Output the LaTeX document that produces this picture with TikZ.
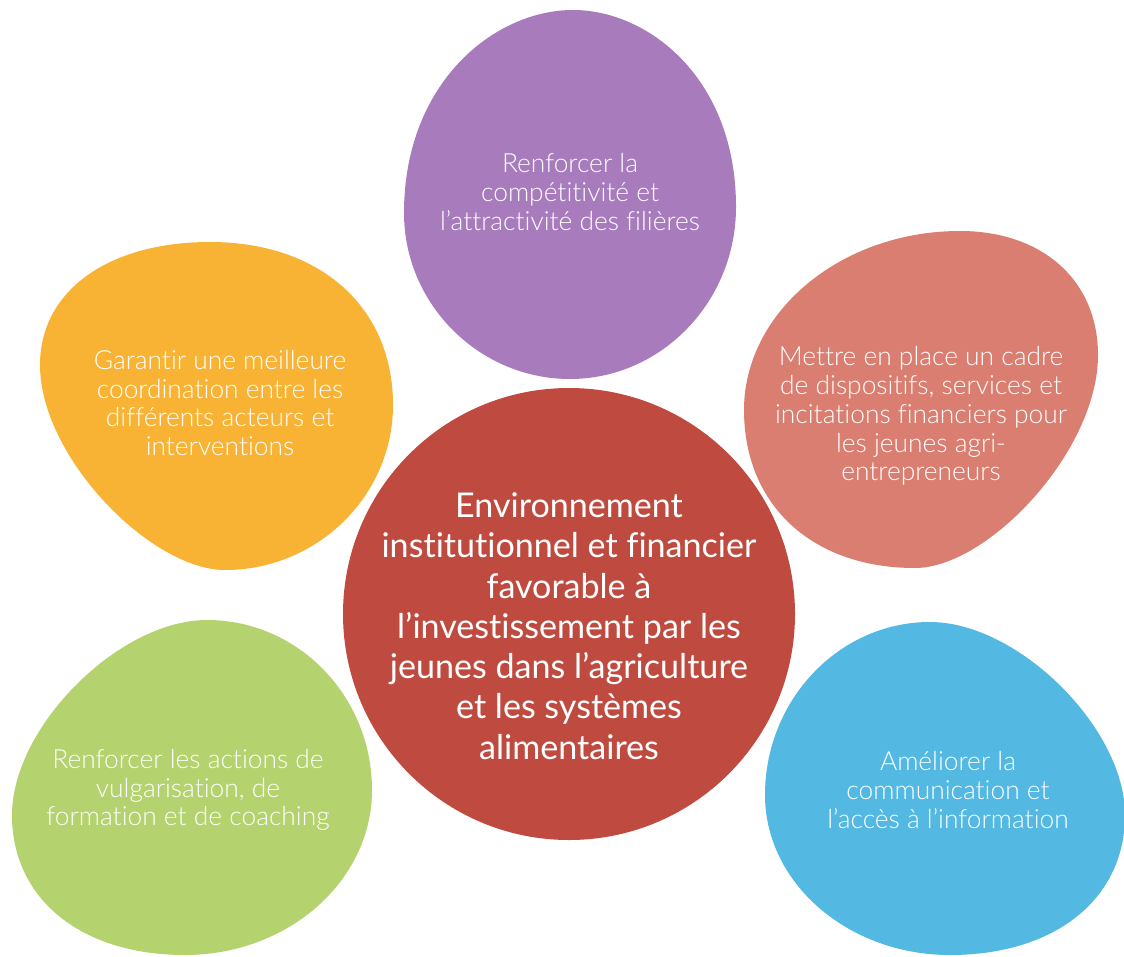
\documentclass[tikz,border=0pt]{standalone}
\usepackage{fontspec}
\setmainfont{Lato}[Ligatures=NoCommon]
\newfontfamily\lightfont{Lato Light}[Ligatures=NoCommon]
\definecolor{corered}{HTML}{BF4B40}
\definecolor{blobpurple}{HTML}{A87BBD}
\definecolor{bloborange}{HTML}{F8B334}
\definecolor{blobsalmon}{HTML}{D97E70}
\definecolor{blobgreen}{HTML}{B4D36E}
\definecolor{blobblue}{HTML}{53B9E2}

\begin{document}
\begin{tikzpicture}[x=0.02cm,y=-0.02cm,
        blob text/.style={text=white,align=center,font=\lightfont\fontsize{15}{16.4}\selectfont},
        core text/.style={text=white,align=center,font=\fontsize{19.4}{22.9}\selectfont}]
        \useasboundingbox (0,0) rectangle (1124,956);

        % blobs
        \fill[blobpurple] (573,10) .. controls (648,10) and (736,78) .. (736,207)
                .. controls (736,302) and (661,379) .. (570,379)
                .. controls (479,379) and (404,304) .. (404,213)
                .. controls (404,82) and (495,10) .. (573,10) -- cycle;
        \fill[bloborange] (210,242) .. controls (320,242) and (393,307) .. (393,405)
                .. controls (393,496) and (317,570) .. (225,570)
                .. controls (151,570) and (40,457) .. (40,365)
                .. controls (40,291) and (108,242) .. (210,242) -- cycle;
        \fill[blobsalmon] (960,231) .. controls (1043,231) and (1098,281) .. (1098,355)
                .. controls (1098,451) and (988,568) .. (915,568)
                .. controls (812,568) and (744,505) .. (744,410)
                .. controls (744,312) and (841,231) .. (960,231) -- cycle;
        \fill[blobgreen] (207,620) .. controls (298,620) and (372,696) .. (372,790)
                .. controls (372,881) and (288,955) .. (185,955)
                .. controls (81,955) and (12,899) .. (12,815)
                .. controls (12,727) and (119,620) .. (207,620) -- cycle;
        \fill[blobblue] (930,622) .. controls (1018,622) and (1125,728) .. (1125,815)
                .. controls (1125,899) and (1055,955) .. (950,955)
                .. controls (848,955) and (765,883) .. (765,795)
                .. controls (765,700) and (839,622) .. (930,622) -- cycle;
        \fill[corered] (569,614) circle [radius=226];

        \node[core text] (core) at (569,626) {Environnement\\institutionnel et financier\\favorable à\\l’investissement par les\\jeunes dans l’agriculture\\et les systèmes\\alimentaires};
        \node[blob text] (compet) at (570,192) {Renforcer la\\compétitivité et\\l’attractivité des filières};
        \node[blob text] (coord) at (220,403) {Garantir une meilleure\\coordination entre les\\différents acteurs et\\interventions};
        \node[blob text] (cadre) at (921,416) {Mettre en place un cadre\\de dispositifs, services et\\incitations financiers pour\\les jeunes agri-\\entrepreneurs};
        \node[blob text] (vulga) at (188,790) {Renforcer les actions de\\vulgarisation, de\\formation et de coaching};
        \node[blob text] (info) at (948,790) {Améliorer la\\communication et\\l’accès à l’information};
      \end{tikzpicture}
\end{document}
